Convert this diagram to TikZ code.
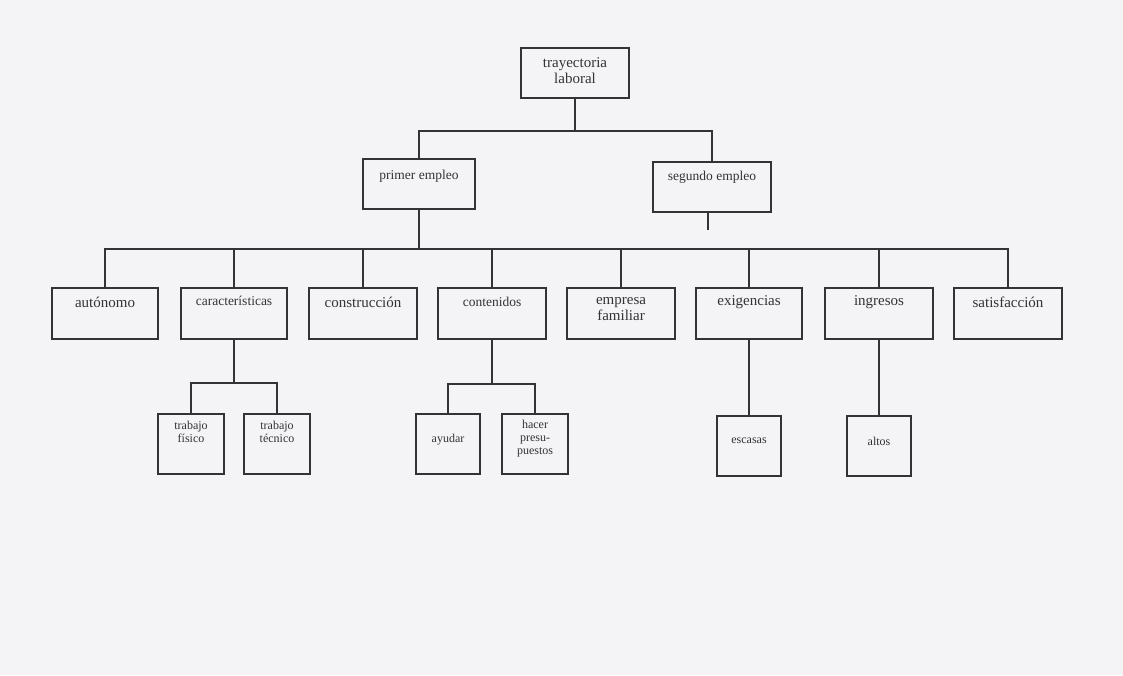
\documentclass[tikz,border=0pt]{standalone}
\usepackage{fontspec}
\setmainfont{Liberation Serif}
\definecolor{ink}{HTML}{333333}
\definecolor{paper}{HTML}{F4F4F7}
\tikzset{
  box/.style={draw=ink, line width=1.3pt, rectangle, inner sep=0pt},
  lbl/.style={text=ink, align=center, inner sep=0pt},
  big/.style={font=\fontsize{15}{16}\selectfont},
  mid/.style={font=\fontsize{13.5}{15}\selectfont},
  small/.style={font=\fontsize{12}{13}\selectfont},
  conn/.style={draw=ink, line width=1.3pt},
}
% name, x1, y1, x2, y2, text-centre y, text style, text
\newcommand\mkbox[8]{%
  \node[box, minimum width={(#4-#2)*1pt}, minimum height={(#5-#3)*1pt}] (#1) at ({(#2+#4)/2},{(#3+#5)/2}) {};
  \node[lbl,#7] (#1-t) at ({(#2+#4)/2},#6) {#8};}
\begin{document}
\begin{tikzpicture}[x=1pt,y=-1pt]
  \fill[paper] (0,0) rectangle (1123,675);
  \useasboundingbox (0,0) rectangle (1123,675);

  % level 0 and 1
  \mkbox{traj}{521}{48}{629}{98}{71}{big}{trayectoria\\laboral}
  \mkbox{prim}{363}{159}{475}{209}{176}{mid}{primer empleo}
  \mkbox{seg}{653}{162}{771}{212}{177}{mid}{segundo empleo}

  % level 2
  \mkbox{auto}{52}{288}{158}{339}{302}{big}{autónomo}
  \mkbox{car}{181}{288}{287}{339}{301}{mid}{características}
  \mkbox{con}{309}{288}{417}{339}{302}{big}{construcción}
  \mkbox{cnt}{438}{288}{546}{339}{302}{mid}{contenidos}
  \mkbox{emp}{567}{288}{675}{339}{309.5}{big}{empresa\\familiar}
  \mkbox{exi}{696}{288}{802}{339}{302}{big}{exigencias}
  \mkbox{ing}{825}{288}{933}{339}{302}{big}{ingresos}
  \mkbox{sat}{954}{288}{1062}{339}{302}{big}{satisfacción}

  % level 3
  \mkbox{tf}{158}{414}{224}{474}{432}{small}{trabajo\\físico}
  \mkbox{tt}{244}{414}{310}{474}{432}{small}{trabajo\\técnico}
  \mkbox{ay}{416}{414}{480}{474}{440}{small}{ayudar}
  \mkbox{hp}{502}{414}{568}{474}{439}{small}{hacer\\presu-\\puestos}
  \mkbox{esc}{717}{416}{781}{476}{441}{small}{escasas}
  \mkbox{alt}{847}{416}{911}{476}{441}{small}{altos}

  % connectors, top
  \coordinate (j1) at (575,131);
  \draw[conn] (traj.south) -- (j1);
  \draw[conn] (prim.north) |- (j1) -| (seg.north);
  \coordinate (sstub) at (708,230);
  \draw[conn] (seg.south -| sstub) -- (sstub);

  % main bus
  \coordinate (j2) at (419,249);
  \draw[conn] (prim.south) -- (j2);
  \draw[conn] (auto.north) |- (j2) -| (sat.north);
  \foreach \n in {car,con,cnt,emp,exi,ing}
    \draw[conn] (\n.north) -- (\n.north |- j2);

  % sub-trees
  \coordinate (j3) at (234,383);
  \draw[conn] (car.south) -- (j3);
  \draw[conn] (tf.north) |- (j3) -| (tt.north);
  \coordinate (j4) at (492,384);
  \draw[conn] (cnt.south) -- (j4);
  \draw[conn] (ay.north) |- (j4) -| (hp.north);
  \draw[conn] (exi.south) -- (esc.north);
  \draw[conn] (ing.south) -- (alt.north);
\end{tikzpicture}
\end{document}
